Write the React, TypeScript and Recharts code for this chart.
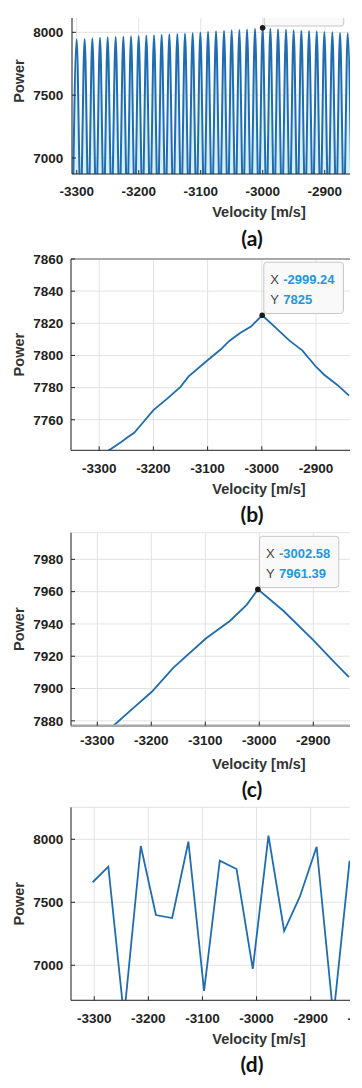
import React from 'react';
import {
  ComposedChart, LineChart, Line, Area, XAxis, YAxis, CartesianGrid, ReferenceDot, ReferenceLine,
} from 'recharts';

// ---------- Panel (a): dense oscillation (peaks and troughs) ----------
const A_PEAK_VEL = [
  -3300.1, -3287.2, -3274.8, -3262.4, -3250.1, -3237.2, -3224.8, -3212.4, -3200.1,
  -3187.7, -3175.3, -3163.0, -3150.6, -3137.7, -3125.3, -3113.0, -3100.6, -3088.2,
  -3075.3, -3062.4, -3050.1, -3037.7, -3025.3, -3012.4, -3000.1, -2987.7, -2975.3,
  -2962.4, -2950.1, -2937.7, -2925.3, -2912.9, -2900.6, -2887.7, -2875.3, -2862.9,
];
const A_PEAK_POW = [
  7944, 7947, 7952, 7957, 7960, 7963, 7965, 7968, 7971,
  7975, 7977, 7981, 7984, 7987, 7991, 7995, 7999, 8004,
  8009, 8012, 8016, 8019, 8022, 8028, 8036, 8029, 8024,
  8021, 8016, 8013, 8011, 8008, 8003, 8000, 7995, 7992,
];
const A_TROUGH_VEL = [
  -3306.3, -3293.7, -3281.0, -3268.6, -3256.3, -3243.7, -3231.0, -3218.6, -3206.3,
  -3193.9, -3181.5, -3169.2, -3156.8, -3144.2, -3131.5, -3119.2, -3106.8, -3094.4,
  -3081.8, -3068.9, -3056.3, -3043.9, -3031.5, -3018.9, -3006.3, -2993.9, -2981.5,
  -2968.9, -2956.3, -2943.9, -2931.5, -2919.1, -2906.8, -2894.2, -2881.5, -2869.1,
  -2856.7,
];
const A_TROUGH_POW = [
  6600, 6600, 6600, 6600, 6600, 6600, 6600, 6600, 6600,
  6600, 6600, 6600, 6600, 6600, 6600, 6600, 6600, 6600,
  6600, 6600, 6600, 6600, 6600, 6600, 6600, 6600, 6600,
  6600, 6600, 6600, 6600, 6600, 6600, 6600, 6600, 6600,
  6600,
];
const A_TIP = { vel: -3000.1, pow: 8036 };

// ---------- Panel (b) ----------
const B_VEL = [
  -3290, -3282, -3260, -3250, -3235, -3220, -3200, -3175, -3150, -3135, -3100, -3075,
  -3060, -3040, -3020, -2999.24, -2975, -2950, -2925, -2900, -2885, -2860, -2839,
];
const B_POW = [
  7739, 7741, 7746, 7748.5, 7752, 7758, 7766, 7773, 7780.5, 7787, 7797, 7804,
  7809, 7814, 7818, 7825, 7817.5, 7809.5, 7803, 7793, 7788, 7781.5, 7775,
];
const B_TIP = { vel: -2999.24, pow: 7825, xText: '-2999.24', yText: '7825' };

// ---------- Panel (c) ----------
const C_VEL = [-3275, -3270, -3233, -3199, -3159, -3099, -3054, -3023, -3002.58, -2955, -2900, -2863, -2834];
const C_POW = [7874, 7877, 7888, 7898, 7913, 7931, 7942, 7952, 7961.39, 7948, 7930, 7917, 7907];
const C_TIP = { vel: -3002.58, pow: 7961.39, xText: '-3002.58', yText: '7961.39' };

// ---------- Panel (d) ----------
const D_VEL = [-3303, -3274, -3245, -3214, -3186, -3156, -3126, -3097, -3068, -3037, -3007, -2978, -2949, -2920, -2889, -2858, -2828];
const D_POW = [7659, 7783, 6590, 7947, 7399, 7375, 7981, 6796, 7830, 7764, 6971, 8029, 7272, 7544, 7941, 6590, 7830];

// ---------- Ticks / labels ----------
const X_TICKS = [-3300, -3200, -3100, -3000, -2900];
const X_TICKS_D = [-3300, -3200, -3100, -3000, -2900, -2800];
const A_Y_TICKS = [7000, 7500, 8000];
const B_Y_TICKS = [7760, 7780, 7800, 7820, 7840, 7860];
const C_Y_TICKS = [7880, 7900, 7920, 7940, 7960, 7980];
const D_Y_TICKS = [7000, 7500, 8000];
const X_LABEL = 'Velocity [m/s]';
const Y_LABEL = 'Power';
const CAPTIONS = ['(a)', '(b)', '(c)', '(d)'];

const FONT = '"Liberation Sans", Arial, Helvetica, sans-serif';
const LINE = '#1f6db0';
const TICK = { fill: '#222222', fontSize: 13.5, fontWeight: 700, fontFamily: FONT };
const GRID = '#e2e2e2';

const aData: { v: number; p: number }[] = [];
A_TROUGH_VEL.forEach((v, i) => {
  aData.push({ v, p: A_TROUGH_POW[i] });
  if (i < A_PEAK_VEL.length) aData.push({ v: A_PEAK_VEL[i], p: A_PEAK_POW[i] });
});
const bData = B_VEL.map((v, i) => ({ v, p: B_POW[i] }));
const cData = C_VEL.map((v, i) => ({ v, p: C_POW[i] }));
const dData = D_VEL.map((v, i) => ({ v, p: D_POW[i] }));

const xLabel = (caption: string) => (props: any) => {
  const vb = props.viewBox || {};
  const cx = vb.x + vb.width / 2;
  return (
    <g>
      <text x={cx} y={vb.y + 38} dy="0.36em" textAnchor="middle" fill="#333333"
        style={{ fontFamily: FONT, fontSize: 14.5, fontWeight: 700 }}>{X_LABEL}</text>
      <text x={cx - 7} y={vb.y + 64} dy="0.36em" textAnchor="middle" fill="#111111"
        style={{ fontFamily: 'Lato, "Open Sans", sans-serif', fontSize: 21, fontWeight: 700 }}>{caption}</text>
    </g>
  );
};

const yLabel = (props: any) => {
  const vb = props.viewBox || {};
  const cy = vb.y + vb.height / 2;
  return (
    <text x={11} y={cy} dy="0.36em" textAnchor="middle" fill="#333333" transform={`rotate(-90, 11, ${cy})`}
      style={{ fontFamily: FONT, fontSize: 14.5, fontWeight: 700 }}>{Y_LABEL}</text>
  );
};

const tipShape = (xText: string | null, yText: string | null, w: number) => (props: any) => {
  const { cx, cy } = props;
  const bx = cx + 1.6;
  const h = 51.3;
  const by = cy - 1.8 - h;
  return (
    <g>
      <rect x={bx} y={by} width={w} height={h} rx={3} ry={3} fill="#f9f9f9" stroke="#c6c6c6" strokeWidth={1} />
      {xText !== null && (
        <g style={{ fontFamily: FONT, fontSize: 13 }}>
          <text x={bx + 6.5} y={by + 17.5} dy="0.36em" fill="#444444">X</text>
          <text x={bx + 19.5} y={by + 17.5} dy="0.36em" fill="#2596d9" fontWeight={700}>{xText}</text>
          <text x={bx + 6.5} y={by + 37.5} dy="0.36em" fill="#444444">Y</text>
          <text x={bx + 19.5} y={by + 37.5} dy="0.36em" fill="#2596d9" fontWeight={700}>{yText}</text>
        </g>
      )}
      <circle cx={cx} cy={cy} r={2.8} fill="#1a1a1a" />
    </g>
  );
};

export default function App() {
  return (
    <div style={{ position: 'relative', width: 342, height: 1080, overflow: 'hidden', background: '#fff' }}>
      {/* Panel (a) */}
      <div style={{ position: 'absolute', left: 0, top: 10, width: 342, height: 245, overflow: 'hidden' }}>
        <div style={{ position: 'absolute', left: 0, top: -30 }}>
          <ComposedChart width={448} height={266} data={aData} margin={{ top: 0, right: 10, bottom: 0, left: 0 }}>
            <defs>
              <linearGradient id="aFill" x1="0" y1="0" x2="0" y2="1">
                <stop offset="0" stopColor="#eaf7fd" stopOpacity={0.4} />
                <stop offset="0.3" stopColor="#dcf2fc" stopOpacity={1} />
                <stop offset="1" stopColor="#d2eefb" stopOpacity={1} />
              </linearGradient>
            </defs>
            <CartesianGrid stroke={GRID} />
            <XAxis dataKey="v" type="number" domain={[-3307.6, -2704.4]} allowDataOverflow ticks={X_TICKS}
              height={80} tick={TICK} tickSize={-4} tickMargin={16.9} axisLine={{ stroke: '#262626' }}
              tickLine={{ stroke: '#262626' }} label={xLabel(CAPTIONS[0])} />
            <YAxis type="number" domain={[6872.6, 8352.7]} allowDataOverflow ticks={A_Y_TICKS} width={64}
              tick={TICK} tickSize={-4} tickMargin={12.7} axisLine={{ stroke: '#262626' }}
              tickLine={{ stroke: '#262626' }} label={yLabel} />
            <Area type="monotone" dataKey="p" stroke={LINE} strokeWidth={2} fill="url(#aFill)" fillOpacity={1}
              dot={false} activeDot={false} isAnimationActive={false} />
            <ReferenceDot x={A_TIP.vel} y={A_TIP.pow} r={3} shape={tipShape(null, null, 79.5)} />
          </ComposedChart>
        </div>
      </div>

      {/* Panel (b) */}
      <div style={{ position: 'absolute', left: 0, top: 242 }}>
        <LineChart width={449} height={280.3} data={bData} margin={{ top: 9, right: 10, bottom: 0, left: 0 }}>
          <CartesianGrid stroke={GRID} />
          <XAxis dataKey="v" type="number" domain={[-3352, -2658.3]} allowDataOverflow ticks={X_TICKS}
            height={80} tick={TICK} tickSize={-4} tickMargin={16.9} axisLine={{ stroke: '#262626' }}
            tickLine={{ stroke: '#262626' }} label={xLabel(CAPTIONS[1])} />
          <YAxis type="number" domain={[7741, 7860]} allowDataOverflow ticks={B_Y_TICKS} width={63}
            tick={TICK} tickSize={-4} tickMargin={11.7} axisLine={{ stroke: '#262626' }}
            tickLine={{ stroke: '#262626' }} label={yLabel} />
          <ReferenceLine y={7860} stroke="#a8a8a8" strokeWidth={2} />
          <Line type="linear" dataKey="p" stroke={LINE} strokeWidth={1.8} dot={false} activeDot={false}
            isAnimationActive={false} />
          <ReferenceDot x={B_TIP.vel} y={B_TIP.pow} r={3} shape={tipShape(B_TIP.xText, B_TIP.yText, 79.6)} />
        </LineChart>
      </div>

      {/* Panel (c) */}
      <div style={{ position: 'absolute', left: 0, top: 514 }}>
        <LineChart width={449} height={283.7} data={cData} margin={{ top: 10.7, right: 10, bottom: 0, left: 0 }}>
          <CartesianGrid stroke={GRID} />
          <XAxis dataKey="v" type="number" domain={[-3348.7, -2652.4]} allowDataOverflow ticks={X_TICKS}
            height={80} tick={TICK} tickSize={-4} tickMargin={13.5} axisLine={{ stroke: '#a8a8a8', strokeWidth: 2.5 }}
            tickLine={{ stroke: '#262626' }} label={xLabel(CAPTIONS[2])} />
          <YAxis type="number" domain={[7877, 7996.5]} allowDataOverflow ticks={C_Y_TICKS} width={63}
            tick={TICK} tickSize={-4} tickMargin={11.7} axisLine={{ stroke: '#262626' }}
            tickLine={{ stroke: '#262626' }} label={yLabel} />
          <Line type="linear" dataKey="p" stroke={LINE} strokeWidth={1.8} dot={false} activeDot={false}
            isAnimationActive={false} />
          <ReferenceDot x={C_TIP.vel} y={C_TIP.pow} r={3} shape={tipShape(C_TIP.xText, C_TIP.yText, 79.3)} />
        </LineChart>
      </div>

      {/* Panel (d) */}
      <div style={{ position: 'absolute', left: 0, top: 789 }}>
        <LineChart width={449} height={283.3} data={dData} margin={{ top: 10.3, right: 10, bottom: 0, left: 0 }}>
          <CartesianGrid stroke={GRID} />
          <XAxis dataKey="v" type="number" domain={[-3343, -2648]} allowDataOverflow ticks={X_TICKS_D}
            height={80} tick={TICK} tickSize={-4} tickMargin={16.9} axisLine={{ stroke: '#262626' }}
            tickLine={{ stroke: '#262626' }} label={xLabel(CAPTIONS[3])} />
          <YAxis type="number" domain={[6722, 8254]} allowDataOverflow ticks={D_Y_TICKS} width={63}
            tick={TICK} tickSize={-4} tickMargin={11.7} axisLine={{ stroke: '#262626' }}
            tickLine={{ stroke: '#262626' }} label={yLabel} />
          <Line type="linear" dataKey="p" stroke={LINE} strokeWidth={1.8} dot={false} activeDot={false}
            isAnimationActive={false} />
        </LineChart>
      </div>
    </div>
  );
}
